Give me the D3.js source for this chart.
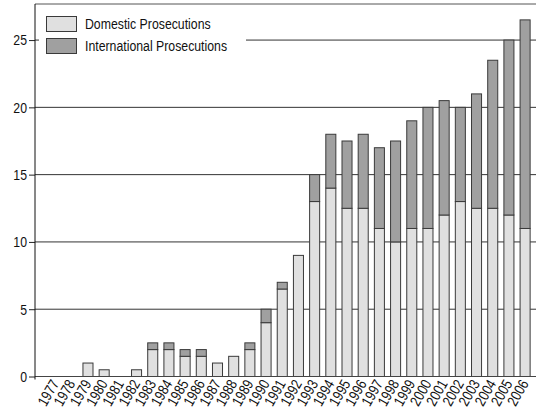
<!DOCTYPE html>
<html><head><meta charset="utf-8">
<script src="https://cdn.jsdelivr.net/npm/d3@7/dist/d3.min.js"></script>
<style>
body{margin:0;background:#fff;}
svg{display:block;}
text{font-family:"Liberation Sans",Arial,sans-serif;fill:#111;}
</style></head>
<body>
<svg id="chart" width="536" height="417"></svg>
<script>
const years = ["1977","1978","1979","1980","1981","1982","1983","1984","1985","1986","1987","1988","1989","1990","1991","1992","1993","1994","1995","1996","1997","1998","1999","2000","2001","2002","2003","2004","2005","2006"];
const domestic = [0,0,1,0.5,0,0.5,2,2,1.5,1.5,1,1.5,2,4,6.5,9,13,14,12.5,12.5,11,10,11,11,12,13,12.5,12.5,12,11];
const international = [0,0,0,0,0,0,0.5,0.5,0.5,0.5,0,0,0.5,1,0.5,0,2,4,5,5.5,6,7.5,8,9,8.5,7,8.5,11,13,15.5];
const seriesNames = ["Domestic Prosecutions","International Prosecutions"];
const seriesColors = ["#e0e0e0","#a0a0a0"];
const yTicks = [0,5,10,15,20,25];

const SX = 0.82; // horizontal compression of the narrow type
const svg = d3.select("#chart");
const x = d3.scaleBand().domain(years).range([47.5, 533.2]).paddingInner(0.38).paddingOuter(0.19);
const y = d3.scaleLinear().domain([0, 27.68]).range([376.5, 4]);
const left = 35, right = 536;

// gridlines
svg.append("g").selectAll("line").data(yTicks.filter(d=>d>0)).join("line")
  .attr("x1", left).attr("x2", right)
  .attr("y1", d=>y(d)).attr("y2", d=>y(d))
  .attr("stroke", "#333").attr("stroke-width", 1);
// top frame
svg.append("line").attr("x1", left).attr("x2", right).attr("y1", y(27.68)).attr("y2", y(27.68))
  .attr("stroke", "#555").attr("stroke-width", 1);

// bars
const stackData = years.map((yr,i)=>({year:yr, d:domestic[i], t:international[i]}));
const g = svg.append("g");
stackData.forEach(s=>{
  if (s.d > 0) g.append("rect").attr("x", x(s.year)).attr("width", x.bandwidth())
    .attr("y", y(s.d)).attr("height", y(0)-y(s.d))
    .attr("fill", seriesColors[0]).attr("stroke", "#3a3a3a").attr("stroke-width", 1);
  if (s.t > 0) g.append("rect").attr("x", x(s.year)).attr("width", x.bandwidth())
    .attr("y", y(s.d+s.t)).attr("height", y(s.d)-y(s.d+s.t))
    .attr("fill", seriesColors[1]).attr("stroke", "#3a3a3a").attr("stroke-width", 1);
});

// baseline
svg.append("line").attr("x1", left).attr("x2", right).attr("y1", y(0)).attr("y2", y(0))
  .attr("stroke", "#444").attr("stroke-width", 1);

// y axis
const yAxis = d3.axisLeft(y).tickValues(yTicks).tickSize(6).tickPadding(3).tickFormat(d3.format("d"));
const ya = svg.append("g").attr("transform", `translate(${left},0)`).call(yAxis);
ya.select(".domain").remove();
ya.selectAll(".tick line").attr("stroke", "#222");
ya.selectAll(".tick text").attr("font-size", 15).attr("fill", "#111")
  .style("font-family", '"Liberation Sans",Arial,sans-serif')
  .attr("x", -8 / SX).attr("transform", `scale(${SX},1)`);
svg.append("line").attr("x1", left).attr("x2", left).attr("y1", y(27.68)).attr("y2", y(0)+3)
  .attr("stroke", "#111").attr("stroke-width", 1);

// x labels
const xAxis = d3.axisBottom(x).tickSize(0).tickPadding(0);
const xa = svg.append("g").attr("transform", `translate(0,${y(0)})`).call(xAxis);
xa.select(".domain").remove();
xa.selectAll(".tick text")
  .attr("font-size", 15).attr("fill", "#111")
  .style("font-family", '"Liberation Sans",Arial,sans-serif')
  .attr("text-anchor", "end").attr("dy", 0).attr("y", 0)
  .attr("transform", `translate(4,7) rotate(-60) scale(${SX},1)`);

// legend
const lg = svg.append("g");
lg.append("rect").attr("x", 39).attr("y", 8).attr("width", 207).attr("height", 52).attr("fill", "#fff");
seriesNames.forEach((n,i)=>{
  lg.append("rect").attr("x", 46.5).attr("y", 16.5 + i*22).attr("width", 30).attr("height", 15)
    .attr("fill", seriesColors[i]).attr("stroke", "#3a3a3a");
  lg.append("text").attr("x", 85 / SX).attr("y", 29.5 + i*22).attr("font-size", 15)
    .attr("transform", `scale(${SX},1)`).text(n);
});
</script>
</body></html>
